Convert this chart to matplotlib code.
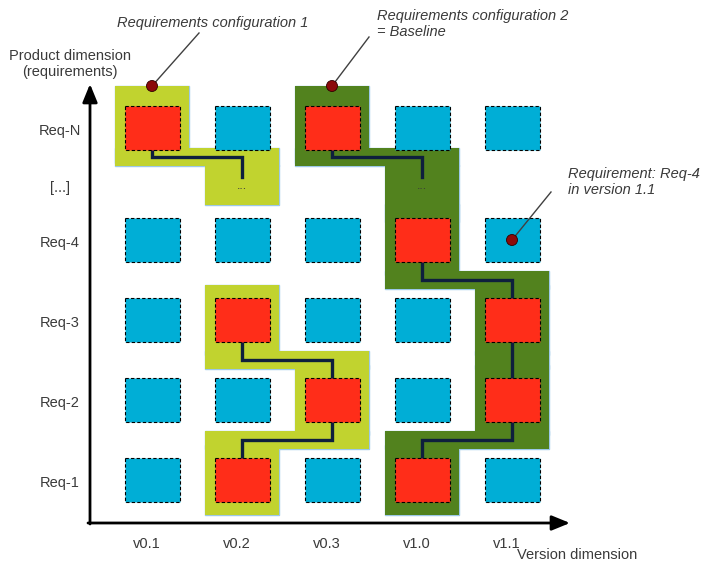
import matplotlib.pyplot as plt
from matplotlib.patches import Rectangle, Circle

plt.rcParams['font.family'] = ['Liberation Sans', 'DejaVu Sans']

# grid content
versions = ['v0.1', 'v0.2', 'v0.3', 'v1.0', 'v1.1']
requirements = ['Req-1', 'Req-2', 'Req-3', 'Req-4', '[...]', 'Req-N']
gap_row = '[...]'

# configurations, listed top to bottom (version, requirement)
config_1 = [('v0.1', 'Req-N'), ('v0.2', '[...]'),
            ('v0.2', 'Req-3'), ('v0.3', 'Req-2'), ('v0.2', 'Req-1')]
config_2 = [('v0.3', 'Req-N'), ('v1.0', '[...]'), ('v1.0', 'Req-4'),
            ('v1.1', 'Req-3'), ('v1.1', 'Req-2'), ('v1.0', 'Req-1')]
marked_req = ('v1.1', 'Req-4')

callout_1 = 'Requirements configuration 1'
callout_2 = 'Requirements configuration 2\n= Baseline'
callout_req = 'Requirement: Req-4\nin version 1.1'

LIGHT_GREEN = '#c1d32f'
DARK_GREEN = '#52821e'
RED = '#ff2d19'
BLUE = '#00aed6'
NAVY = '#0e1f3d'
DOT = '#8b0a0a'
TXT = '#3a3a3a'
FS = 10.5

W, H = 706, 563
fig = plt.figure(figsize=(W / 100, H / 100), dpi=100)
ax = fig.add_axes([0, 0, 1, 1])
ax.set_xlim(0, W)
ax.set_ylim(H, 0)
ax.axis('off')

# layout in pixels
row_y = {'Req-1': 480, 'Req-2': 400, 'Req-3': 320, 'Req-4': 240,
         '[...]': 185, 'Req-N': 128}


def col_x(v):
    return 152 + 90 * versions.index(v)


BOX_W, BOX_H = 55, 44
PAD_W, PAD_H = 37, 35
TOP_EXTRA = 7
BAND = 9


def highlight(cells, color):
    rects = []
    for i, (v, r) in enumerate(cells):
        hh = 20 if r == gap_row else PAD_H
        top = TOP_EXTRA if i == 0 else 0
        rects.append((col_x(v) - PAD_W, row_y[r] - hh - top,
                      2 * PAD_W, 2 * hh + top))
    for (va, ra), (vb, rb) in zip(cells[:-1], cells[1:]):
        if abs(requirements.index(ra) - requirements.index(rb)) != 1:
            continue
        mid = (row_y[ra] + row_y[rb]) / 2
        x0 = min(col_x(va), col_x(vb)) - PAD_W
        x1 = max(col_x(va), col_x(vb)) + PAD_W
        rects.append((x0, mid - BAND, x1 - x0, 2 * BAND))
    for x, y, w, h in rects:
        ax.add_patch(Rectangle((x, y), w, h, facecolor=color,
                               edgecolor='#9cc8e8', lw=1.0, zorder=1))
    for x, y, w, h in rects:
        ax.add_patch(Rectangle((x, y), w, h, facecolor=color,
                               edgecolor='none', zorder=2))
    # connectors
    for (va, ra), (vb, rb) in zip(cells[:-1], cells[1:]):
        if ra == gap_row:
            continue
        if abs(requirements.index(ra) - requirements.index(rb)) != 1:
            continue
        mid = (row_y[ra] + row_y[rb]) / 2
        y0 = row_y[ra] + BOX_H / 2
        y1 = row_y[rb] - (8 if rb == gap_row else BOX_H / 2)
        xa, xb = col_x(va), col_x(vb)
        ax.plot([xa, xa, xb, xb], [y0, mid, mid, y1], color=NAVY, lw=2.4,
                solid_joinstyle='miter', zorder=3)
    for v, r in cells:
        if r == gap_row:
            ax.text(col_x(v), row_y[r] + 1, '...', ha='center', va='center',
                    fontsize=9, color=TXT, zorder=4)


highlight(config_1, LIGHT_GREEN)
highlight(config_2, DARK_GREEN)

selected = set(config_1) | set(config_2)
for r in requirements:
    if r == gap_row:
        continue
    for v in versions:
        color = RED if (v, r) in selected else BLUE
        ax.add_patch(Rectangle((col_x(v) - BOX_W / 2, row_y[r] - BOX_H / 2),
                               BOX_W, BOX_H, facecolor=color, edgecolor='black',
                               lw=0.8, linestyle=(0, (3, 2)), zorder=4))

# axes arrows
ax.annotate('', xy=(570, 523), xytext=(88, 523),
            arrowprops=dict(arrowstyle='-|>,head_length=1.1,head_width=0.45',
                            lw=2, color='black', shrinkA=0, shrinkB=0))
ax.annotate('', xy=(90, 84), xytext=(90, 524),
            arrowprops=dict(arrowstyle='-|>,head_length=1.1,head_width=0.45',
                            lw=2, color='black', shrinkA=0, shrinkB=0))

# axis labels
for r in requirements:
    ax.text(60, row_y[r] + 3, r, ha='center', va='center', fontsize=FS, color=TXT)
for v in versions:
    ax.text(col_x(v) - 5, 544, v, ha='center', va='center', fontsize=FS, color=TXT)
ax.text(70, 64, 'Product dimension\n(requirements)', ha='center', va='center',
        fontsize=FS, color=TXT, linespacing=1.2)
ax.text(577, 555, 'Version dimension', ha='center', va='center',
        fontsize=FS, color=TXT)


# callouts
def callout(x, y, dx, dy):
    ax.plot([x, x + dx], [y, y + dy], color='#404040', lw=1, zorder=5)
    ax.add_patch(Circle((x, y), 5.5, facecolor=DOT, edgecolor='#300000',
                        lw=0.6, zorder=6))


v, r = config_1[0]
callout(col_x(v), row_y[r] - PAD_H - TOP_EXTRA, 47, -53)
v, r = config_2[0]
callout(col_x(v), row_y[r] - PAD_H - TOP_EXTRA, 37, -49)
v, r = marked_req
callout(col_x(v), row_y[r], 39, -48)

ax.text(117, 23, callout_1, ha='left', va='center', fontsize=FS,
        style='italic', color=TXT)
ax.text(377, 24, callout_2, ha='left', va='center', fontsize=FS,
        style='italic', color=TXT, linespacing=1.2)
ax.text(568, 182, callout_req, ha='left', va='center', fontsize=FS,
        style='italic', color=TXT, linespacing=1.2)

fig.savefig('out.png', dpi=100)
